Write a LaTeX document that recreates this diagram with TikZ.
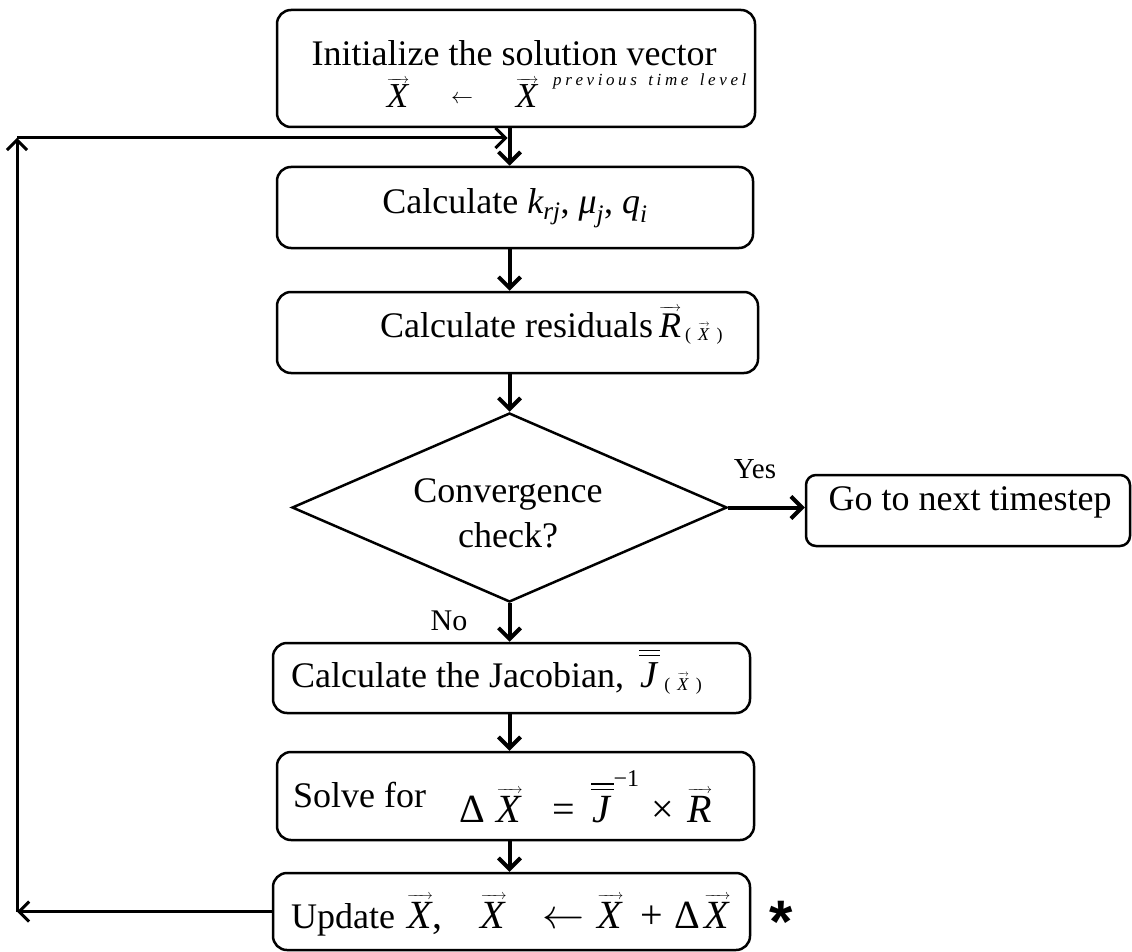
\documentclass[tikz,border=0pt]{standalone}
\usepackage{fix-cm}
\usepackage{amsmath}
\usepackage{fontspec}
\setmainfont{Liberation Serif}
\newfontfamily\starfont{Liberation Sans}
\usetikzlibrary{arrows.meta,shapes.geometric}

\newcommand\fs[1]{\fontsize{#1}{#1}\selectfont}
\makeatletter
% thin arrow over a symbol
\newcommand\ovec[2][14]{\vbox{\m@th\ialign{##\crcr
  \fs{#1}\rightarrowfill\crcr
  \noalign{\kern2pt\nointerlineskip}
  \hfil#2\hfil\crcr}}}
% letter-spaced text: \tracked{gap}{letters, ~ for a space}
\newcommand\tracked[2]{\def\trk@gap{\kern#1\relax}\trk@go#2\@nil}
\def\trk@go#1#2\@nil{#1\ifx\relax#2\relax\else\trk@gap\trk@go#2\@nil\fi}
\makeatother

% vector and matrix symbols
\newcommand\vX{\ovec{\textit{X}}}
\newcommand\vR{\ovec{\textit{R}}}
\newcommand\Jmat{\vbox{\hrule height 1.3pt\kern4pt\hrule height 1.3pt\kern6pt
  \hbox{\kern1pt\textit{J}\kern2pt}}}
% small lowered "( X )" argument
\newcommand\argX{\lower3pt\hbox{\fs{18}(\kern7pt\ovec[9]{\textit{X}}\kern7pt)}}

\begin{document}
\begin{tikzpicture}[x=1pt,y=-1pt,
  box/.style={draw, line width=2.5pt, rounded corners=14pt, inner sep=0pt},
  flow/.style={line width=4pt, -{Straight Barb[length=11pt,width=22pt]}},
  loopline/.style={line width=3pt, -{Straight Barb[length=10pt,width=20pt]}},
  txt/.style={inner sep=0pt, anchor=base},
  txtw/.style={inner sep=0pt, anchor=base west},
]
\useasboundingbox (0,0) rectangle (1132,952);

% boxes
\node[box, minimum width=478pt, minimum height=117pt] (init) at (516,68.5) {};
\node[box, minimum width=476pt, minimum height=81pt] (calc) at (515,207.5) {};
\node[box, minimum width=481pt, minimum height=81pt] (resid) at (517.5,332.5) {};
\node[draw, diamond, line width=2.5pt, aspect=2.3, inner sep=0pt,
      minimum width=435pt, minimum height=189pt] (conv) at (509.5,507.5) {};
\node[box, rounded corners=10pt, minimum width=324pt, minimum height=71pt] (next) at (968,510.5) {};
\node[box, minimum width=477pt, minimum height=70pt] (jac) at (511.5,678) {};
\node[box, minimum width=477pt, minimum height=88pt] (solve) at (515.5,796) {};
\node[box, minimum width=477pt, minimum height=77pt] (upd) at (511.5,911.5) {};

% texts
\node[txt] (t1a) at (514,66) {\fs{36}Initialize the solution vector};
\node[txt] (t1x) at (398,108) {\fs{35}\vX};
\node[txt] (t1arr) at (462,108) {\fs{22}\raisebox{4pt}{$\leftarrow$}};
\node[txt] (t1y) at (527,108) {\fs{35}\vX};
\node[txtw] (t1s) at (553,86) {\fs{17}\itshape\tracked{3.6pt}{previous~time~level}};

\node[txt] (t2) at (515,214) {\fs{36}Calculate $\textit{k}_{\textit{rj}}$, $\textit{μ}_{\textit{j}}$, $\textit{q}_{\textit{i}}$};
\node[txtw] (t3) at (380,337) {\fs{36}Calculate residuals\kern6pt\vR\kern4pt\argX};

\node[txt] (tc1) at (508,502) {\fs{36}Convergence};
\node[txt] (tc2) at (508,547) {\fs{36}check?};
\node[txt] (yes) at (755,478) {\fs{29}Yes};
\node[txt] (no) at (449,630) {\fs{30}No};
\node[txt] (tnext) at (970,510) {\fs{36}Go to next timestep};

\node[txtw] (t4) at (291,687) {\fs{36}Calculate the Jacobian,\kern15pt{\fs{38}\Jmat}\kern4pt\argX};
\node[txtw] (t5a) at (293,807) {\fs{36}Solve for};
\node[txtw] (t5b) at (459,822) {\fs{40}Δ\kern12pt\vX\kern30pt=\kern16pt\Jmat
  \raisebox{36pt}{\fs{24}−1}\kern12pt×\kern14pt\vR};
\node[txtw] (t6) at (291,928) {\fs{36}Update\kern12pt{\fs{40}\vX,\kern38pt\vX\kern36pt
  {\fs{42}$\leftarrow$}\kern13pt\vX\kern17pt+\kern12pt Δ\kern4pt\vX}};
\node[inner sep=0pt, anchor=north] (star) at (781,901) {\starfont\bfseries\fs{60}*};

% main flow
\draw[flow] (init.south -| conv.north) -- (calc.north -| conv.north);
\draw[flow] (calc.south -| conv.north) -- (resid.north -| conv.north);
\draw[flow] (resid.south -| conv.north) -- (conv.north);
\draw[flow] (conv.east) -- (conv.east -| next.west);
\draw[flow] (conv.south) -- (jac.north -| conv.south);
\draw[flow] (jac.south -| conv.south) -- (solve.north -| conv.south);
\draw[flow] (solve.south -| conv.south) -- (upd.north -| conv.south);

% iteration loop
\coordinate (lb) at (17,911.5);
\coordinate (lt) at (17,138);
\draw[loopline] (upd.west) -- (lb);
\draw[loopline] (lb) -- (lt);
\draw[loopline, shorten >=2pt] (lt) -- (lt -| conv.north);
\end{tikzpicture}
\end{document}
